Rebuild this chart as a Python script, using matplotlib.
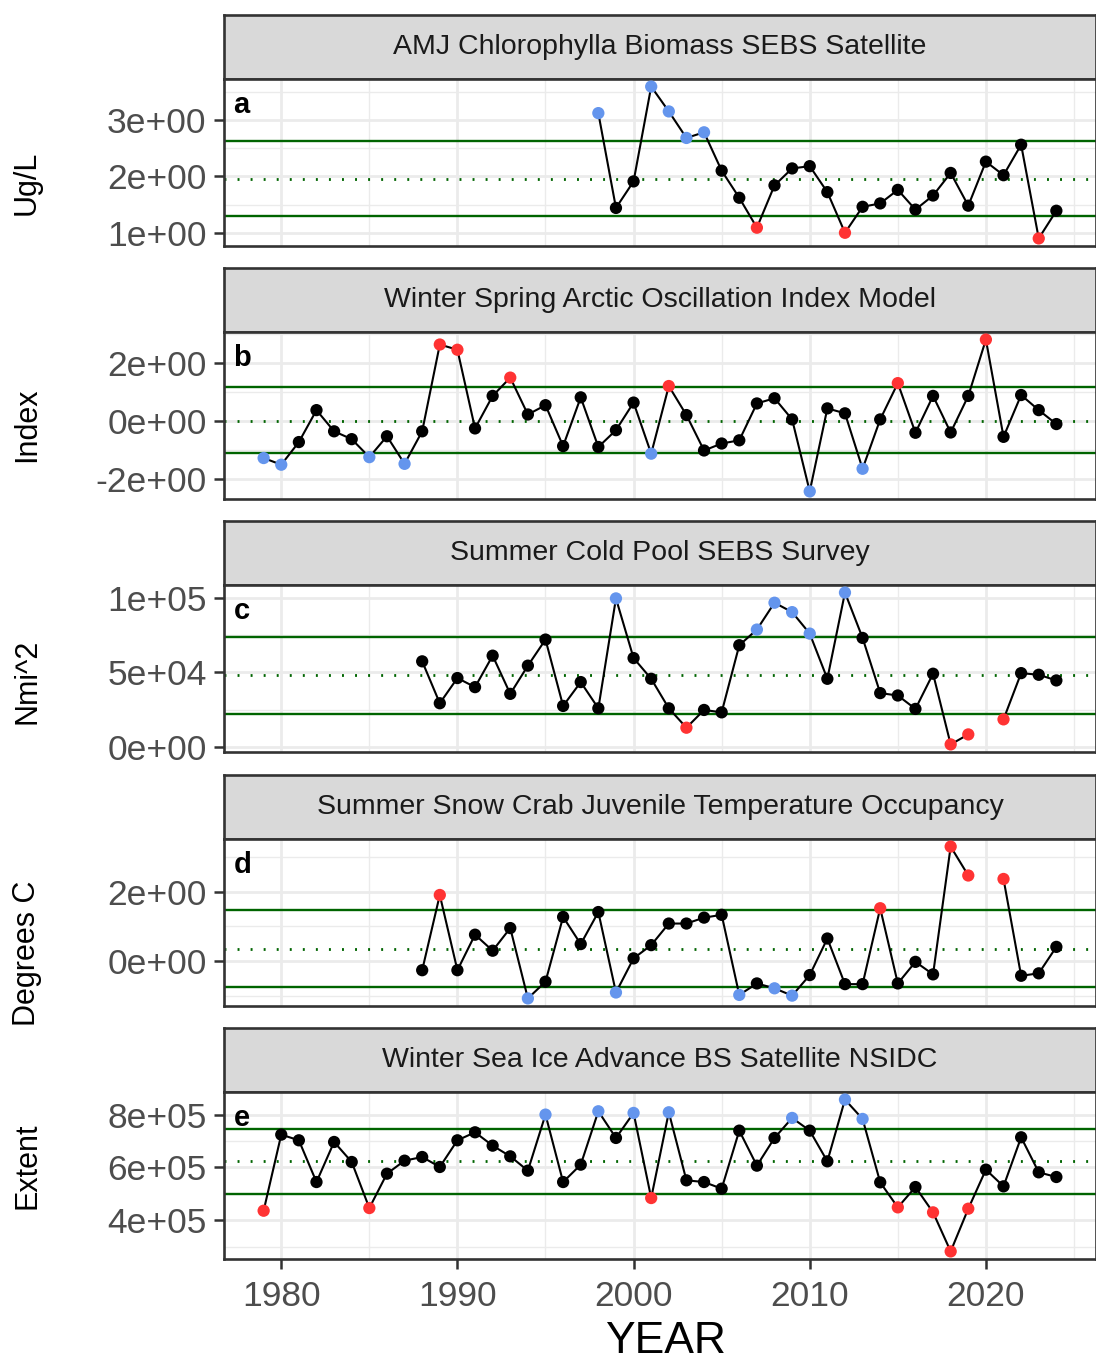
import numpy as np
import matplotlib
matplotlib.use("Agg")
import matplotlib.pyplot as plt
from matplotlib.ticker import FuncFormatter, FixedLocator

plt.rcParams['font.family'] = ['Liberation Sans', 'DejaVu Sans']

W, H = 1096, 1360

titles = ["AMJ Chlorophylla Biomass SEBS Satellite",
          "Winter Spring Arctic Oscillation Index Model",
          "Summer Cold Pool SEBS Survey",
          "Summer Snow Crab Juvenile Temperature Occupancy",
          "Winter Sea Ice Advance BS Satellite NSIDC"]
ylabels = ["Ug/L", "Index", "Nmi^2", "Degrees C", "Extent"]
letters = ["a", "b", "c", "d", "e"]

# a: chlorophyll, 1998-2024
chl_years = np.arange(1998, 2025)
chl = [3.12, 1.44, 1.91, 3.59, 3.15, 2.68, 2.78, 2.10, 1.62, 1.09, 1.84, 2.14,
       2.18, 1.72, 1.00, 1.46, 1.52, 1.76, 1.41, 1.66, 2.06, 1.48, 2.26, 2.02,
       2.56, 0.90, 1.39]

# b: arctic oscillation, 1979-2024
ao_years = np.arange(1979, 2025)
ao = [-1.27, -1.50, -0.72, 0.38, -0.35, -0.62, -1.24, -0.52, -1.47, -0.35,
      2.64, 2.46, -0.25, 0.87, 1.50, 0.23, 0.55, -0.86, 0.82, -0.89,
      -0.31, 0.64, -1.12, 1.21, 0.21, -1.01, -0.77, -0.66, 0.61, 0.79,
      0.06, -2.42, 0.44, 0.27, -1.64, 0.06, 1.31, -0.40, 0.87, -0.39,
      0.87, 2.81, -0.54, 0.90, 0.38, -0.10]

# c: cold pool, 1988-2024 (no 2020)
cp_years = np.arange(1988, 2025)
cp = [57300, 29200, 46100, 40000, 61100, 35500, 54400, 71900, 27400, 43400,
      25800, 99500, 59500, 45600, 25800, 12800, 24700, 23100, 68100, 78600,
      96600, 90300, 75900, 45600, 103400, 73000, 36000, 34400, 25400, 49000,
      1600, 8300, np.nan, 18400, 49400, 48300, 44500]

# d: snow crab temperature occupancy, 1988-2024 (no 2020)
sc_years = np.arange(1988, 2025)
sc = [-0.26, 1.90, -0.26, 0.76, 0.30, 0.95, -1.07, -0.59, 1.27, 0.49,
      1.41, -0.90, 0.08, 0.46, 1.08, 1.08, 1.25, 1.33, -0.97, -0.64,
      -0.78, -0.99, -0.40, 0.65, -0.66, -0.66, 1.52, -0.64, -0.02, -0.38,
      3.29, 2.46, np.nan, 2.36, -0.42, -0.35, 0.41]

# e: sea ice advance, 1979-2024
ice_years = np.arange(1979, 2025)
ice = [436500, 724300, 702800, 545000, 696500, 620800, 446600, 576600, 625800, 639700,
       601900, 702800, 733100, 682600, 642200, 588000, 800000, 545000, 610700, 812600,
       711700, 806300, 484500, 808800, 551400, 545000, 519800, 739400, 606900, 711700,
       787400, 739400, 623300, 856800, 783600, 543800, 449200, 526100, 430300, 282600,
       444100, 591800, 528700, 714200, 581700, 564000]

means = [1.95, 0.02, 47900, 0.36, 623300]
uppers = [2.62, 1.16, 73900, 1.48, 747000]
lowers = [1.29, -1.08, 22200, -0.73, 499600]
# which side of the band is shown in red
high_is_bad = [False, True, False, True, False]

yticks = [[1, 2, 3], [-2, 0, 2], [0, 50000, 100000], [0, 2], [400000, 600000, 800000]]
xticks = [1980, 1990, 2000, 2010, 2020]
xminor = [1975, 1985, 1995, 2005, 2015, 2025]

series = [(chl_years, chl), (ao_years, ao), (cp_years, cp), (sc_years, sc), (ice_years, ice)]

strip_tops = [15, 268, 521, 775, 1028]
strip_h = 64
panel_h = 167
left, right = 224, 1096
ylab_centers = [183, 425, 681, 953, 1166]

BLUE = '#6495ED'
RED = '#FF3333'


def px_rect(x0, y0, x1, y1):
    return [x0 / W, 1 - y1 / H, (x1 - x0) / W, (y1 - y0) / H]


def sci(v, pos):
    return "%.0e" % v


fig = plt.figure(figsize=(W / 100, H / 100), dpi=100)
edge = '#333333'

for i in range(5):
    st = strip_tops[i]
    # strip
    sax = fig.add_axes(px_rect(left, st, right, st + strip_h))
    sax.set_facecolor('#D9D9D9')
    sax.set_xticks([])
    sax.set_yticks([])
    for sp in sax.spines.values():
        sp.set_color(edge)
        sp.set_linewidth(1.9)
    sax.text(0.5, 0.5, titles[i], transform=sax.transAxes, ha='center', va='center',
             fontsize=20.5, color='#1A1A1A')

    ax = fig.add_axes(px_rect(left, st + strip_h, right, st + strip_h + panel_h))
    yrs, vals = series[i]
    vals = np.array(vals, dtype=float)

    ax.set_xlim(1976.75, 2026.25)
    lo, hi = np.nanmin(vals), np.nanmax(vals)
    pad = (hi - lo) * 0.05
    ax.set_ylim(lo - pad, hi + pad)

    # grid
    yt = yticks[i]
    step = yt[1] - yt[0]
    yminor = [yt[0] - step / 2] + [t + step / 2 for t in yt]
    for x in xticks:
        ax.axvline(x, color='#EBEBEB', lw=2.0, zorder=0)
    for x in xminor:
        ax.axvline(x, color='#EBEBEB', lw=1.0, zorder=0)
    for y in yt:
        ax.axhline(y, color='#EBEBEB', lw=2.0, zorder=0)
    for y in yminor:
        ax.axhline(y, color='#EBEBEB', lw=1.0, zorder=0)

    ax.axhline(uppers[i], color='#006400', lw=1.7, zorder=1)
    ax.axhline(lowers[i], color='#006400', lw=1.7, zorder=1)
    ax.axhline(means[i], color='#006400', lw=2.0, ls=(0, (0.7, 4.0)), zorder=1)

    ax.plot(yrs, vals, color='black', lw=1.5, zorder=2)
    hi_col, lo_col = (RED, BLUE) if high_is_bad[i] else (BLUE, RED)
    cols = []
    for v in vals:
        if v > uppers[i]:
            cols.append(hi_col)
        elif v < lowers[i]:
            cols.append(lo_col)
        else:
            cols.append('black')
    ok = ~np.isnan(vals)
    ax.scatter(yrs[ok], vals[ok], c=[c for c, k in zip(cols, ok) if k], s=78,
               zorder=3, linewidths=0)

    ax.yaxis.set_major_locator(FixedLocator(yt))
    ax.yaxis.set_major_formatter(FuncFormatter(sci))
    ax.tick_params(axis='y', labelsize=25.5, labelcolor='#4D4D4D', color=edge,
                   length=7, width=1.8, pad=5.5)
    if i < 4:
        ax.set_xticks([])
    else:
        ax.set_xticks(xticks)
        ax.tick_params(axis='x', labelsize=25.5, labelcolor='#4D4D4D', color=edge,
                       length=7, width=1.8, pad=8)
    for sp in ax.spines.values():
        sp.set_color(edge)
        sp.set_linewidth(1.9)

    ax.text(0.011, 0.845, letters[i], transform=ax.transAxes, ha='left', va='center',
            fontsize=21, fontweight='bold', color='black')

    fig.text(27 / W, 1 - ylab_centers[i] / H, ylabels[i], rotation=90, ha='center',
             va='center', fontsize=22, color='black')

fig.text(665 / W, 1 - 1353 / H, "YEAR", ha='center', va='baseline', fontsize=32,
         color='black')

fig.savefig("out.png", dpi=100)
